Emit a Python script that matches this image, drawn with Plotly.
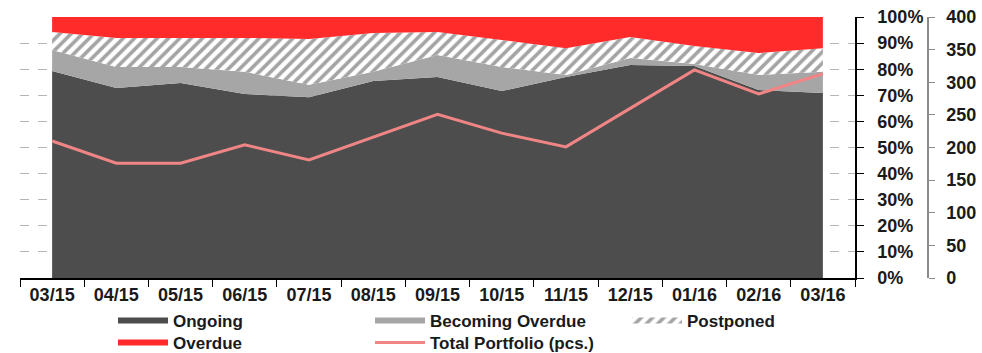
import plotly.graph_objects as go

months = ['03/15', '04/15', '05/15', '06/15', '07/15', '08/15', '09/15',
          '10/15', '11/15', '12/15', '01/16', '02/16', '03/16']
ongoing = [79.3, 72.8, 74.7, 70.5, 69.3, 75.5, 77.0, 71.6, 77.0, 81.6, 81.2, 72.0, 70.9]
becoming_overdue = [8.1, 8.0, 6.1, 8.5, 4.7, 3.5, 8.4, 9.2, 0.8, 2.7, 0.8, 5.8, 8.1]
postponed = [6.9, 11.2, 11.2, 13.0, 17.6, 14.9, 8.9, 10.4, 10.2, 8.0, 6.9, 8.4, 9.0]
overdue = [5.7, 8.0, 8.0, 8.0, 8.4, 6.1, 5.7, 8.8, 12.0, 7.7, 11.1, 13.8, 12.0]
total_portfolio = [210, 176, 176, 204, 181, 216, 251, 222, 201, 260, 319, 282, 313]

pct_ticks = list(range(0, 101, 10))
pct_labels = [f"{v}%" for v in pct_ticks]
pcs_ticks = list(range(0, 401, 50))

FONT = "Liberation Sans"
W, H = 982, 353
L, R, T, B = 20, 20, 17, 75
plot_w = W - L - R
plot_h = H - T - B
x_end = 855
y2_pos = 928
bottom = T + plot_h


def py(ypix):
    return -(ypix - bottom) / plot_h


fig = go.Figure()
fig.add_trace(go.Scatter(x=months, y=ongoing, name="Ongoing", stackgroup="one",
                         mode="none", fillcolor="#4d4d4d", legend="legend"))
fig.add_trace(go.Scatter(x=months, y=becoming_overdue, name="Becoming Overdue",
                         stackgroup="one", mode="none", fillcolor="#a6a6a6",
                         legend="legend"))
fig.add_trace(go.Scatter(x=months, y=postponed, name="Postponed", stackgroup="one",
                         mode="none", fillcolor="white",
                         fillpattern=dict(shape="/", bgcolor="white", fgcolor="#4a4a4a",
                                          size=8, solidity=0.45),
                         legend="legend"))
fig.add_trace(go.Scatter(x=months, y=overdue, name="Overdue", stackgroup="one",
                         mode="none", fillcolor="#ff2b2b", legend="legend2"))
fig.add_trace(go.Scatter(x=months, y=total_portfolio, name="Total Portfolio (pcs.)",
                         mode="lines", line=dict(color="#f08585", width=3),
                         yaxis="y2", legend="legend2"))

legend_common = dict(orientation="h", traceorder="normal",
                     x=(113 - L) / plot_w, xanchor="left", yanchor="top",
                     entrywidth=192, entrywidthmode="pixels",
                     itemwidth=50, tracegroupgap=0,
                     font=dict(family=FONT, size=17, color="#1a1a1a", weight="bold"),
                     bgcolor="rgba(0,0,0,0)")

fig.update_layout(
    width=W, height=H,
    margin=dict(l=L, r=R, t=T, b=B, pad=0, autoexpand=False),
    paper_bgcolor="white", plot_bgcolor="white",
    font=dict(family=FONT, size=18, color="#1a1a1a"),
    showlegend=True,
    legend=dict(legend_common, y=py(303)),
    legend2=dict(legend_common, y=py(325)),
    xaxis=dict(domain=[0, (x_end - L) / plot_w], type="category",
               range=[-0.5, len(months) - 0.5], tickson="boundaries",
               ticks="outside", ticklen=7, tickcolor="black",
               showline=True, linecolor="black", linewidth=1.5,
               showgrid=False, zeroline=False,
               tickfont=dict(family=FONT, size=18, color="#1a1a1a", weight="bold")),
    yaxis=dict(range=[0, 100], tickvals=pct_ticks, ticktext=pct_labels,
               side="right", anchor="x", showline=True, linecolor="black", linewidth=1.5,
               ticks="outside", ticklen=7, tickcolor="black", ticklabelstandoff=10,
               showgrid=True, gridcolor="#b5b5b5", griddash="dash", gridwidth=1,
               zeroline=False, automargin=False,
               tickfont=dict(family=FONT, size=18, color="#1a1a1a", weight="bold")),
    yaxis2=dict(range=[0, 400], tickvals=pcs_ticks, overlaying="y", side="right",
                anchor="free", position=(y2_pos - L) / plot_w,
                showline=True, linecolor="#8c8c8c", linewidth=1.5,
                ticks="outside", ticklen=6, tickcolor="#8c8c8c", ticklabelstandoff=8,
                showgrid=False, zeroline=False, automargin=False,
                tickfont=dict(family=FONT, size=18, color="#1a1a1a", weight="bold")),
)

fig.write_html("out.html")
